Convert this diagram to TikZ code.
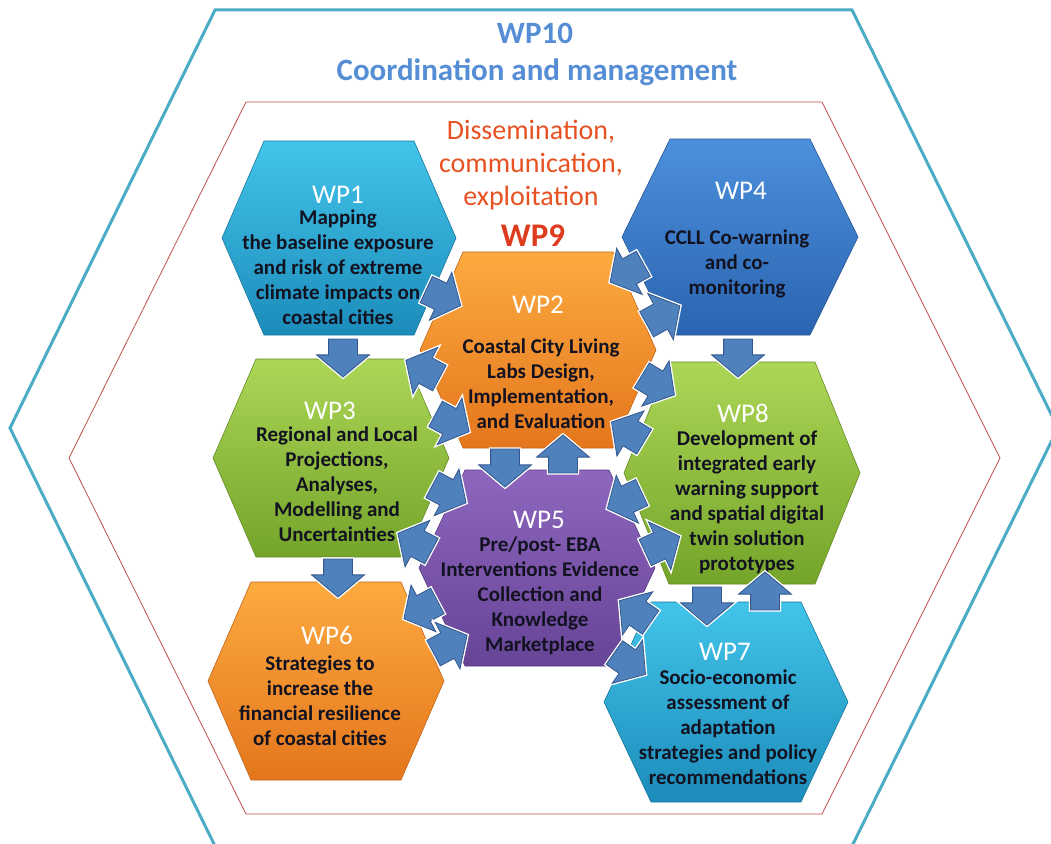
\documentclass[tikz,border=0pt]{standalone}
\usepackage{fontspec}
\setmainfont{Carlito}
\usetikzlibrary{shapes.arrows}
\definecolor{cyanT}{RGB}{66,196,234}
\definecolor{cyanB}{RGB}{28,140,186}
\definecolor{orT}{RGB}{252,170,64}
\definecolor{orB}{RGB}{228,118,28}
\definecolor{grT}{RGB}{172,214,86}
\definecolor{grB}{RGB}{116,164,42}
\definecolor{blT}{RGB}{76,144,220}
\definecolor{blB}{RGB}{42,100,176}
\definecolor{puT}{RGB}{142,102,190}
\definecolor{puB}{RGB}{102,68,150}
\definecolor{arrF}{RGB}{79,129,189}
\definecolor{arrD}{RGB}{52,88,142}
\definecolor{tealline}{RGB}{75,172,198}
\definecolor{redline}{RGB}{192,80,77}
\definecolor{wpblue}{RGB}{85,142,213}
\definecolor{dissem}{RGB}{232,82,34}
\definecolor{wpnine}{RGB}{222,60,30}
\definecolor{desctext}{RGB}{18,18,32}
\newcommand{\drawhex}[7]{%
  \path[draw=#7B!85!black, line width=0.6pt, top color=#7T, bottom color=#7B]
    (#2-#4,#3) -- (#2-#5,#3-#6) -- (#2+#5,#3-#6) -- (#2+#4,#3)
    -- (#2+#5,#3+#6) -- (#2-#5,#3+#6) -- cycle;
  \coordinate (#1) at (#2,#3);
}
\tikzset{
  blk/.style={shape=single arrow, draw=arrD, fill=arrF, line width=0.8pt,
    minimum height=38pt, inner xsep=0pt, inner ysep=14pt,
    single arrow head extend=12pt, single arrow tip angle=100,
    preaction={draw=white, line width=3.5pt}},
  wplab/.style={font=\fontsize{27}{30}\selectfont, text=white, inner sep=0pt},
  desc/.style={font=\fontsize{21}{25}\selectfont\bfseries, text=desctext, align=center, inner sep=0pt},
  frameout/.style={draw=tealline, line width=3pt, line join=miter},
  framein/.style={draw=redline, line width=0.8pt},
}
\begin{document}
\begin{tikzpicture}[x=1pt,y=-1pt]
\useasboundingbox (0,0) rectangle (1051,843);
\fill[white] (0,0) rectangle (1051,843);
% frames
\draw[frameout] (215,10) -- (852,10) -- (1058,428) -- (852,846) -- (215,846) -- (10,428) -- cycle;
\draw[framein] (246,102) -- (822,102) -- (1000,458) -- (822,814) -- (246,814) -- (69,458) -- cycle;
% titles
\node[font=\fontsize{31}{34}\selectfont\bfseries, text=wpblue, inner sep=0pt] (wp10) at (535,33) {WP10};
\node[font=\fontsize{31}{34}\selectfont\bfseries, text=wpblue, inner sep=0pt] (wp10t) at (537,72) {Coordination and management};
\node[font=\fontsize{28}{33}\selectfont, text=dissem, align=center, inner sep=0pt] (wp9t) at (531,165) {Dissemination,\\communication,\\exploitation};
\node[font=\fontsize{33}{36}\selectfont\bfseries, text=wpnine, inner sep=0pt] (wp9) at (533,236) {WP9};
% hexagons
\drawhex{wp1}{339}{238}{117}{75}{97}{cyan}
\drawhex{wp4}{740}{237}{118}{70}{98}{bl}
\drawhex{wp2}{538}{350}{118}{75}{98}{or}
\drawhex{wp3}{331}{458}{118}{75}{99}{gr}
\drawhex{wp8}{742}{473}{118}{73}{111}{gr}
\drawhex{wp5}{537}{568}{118}{72}{98}{pu}
\drawhex{wp6}{326}{681}{118}{75}{99}{or}
\drawhex{wp7}{726}{702}{122}{75}{100}{cyan}
% labels
\node[wplab] (wp1l) at (338,195) {WP1};
\node[desc] (wp1d) at (338,267) {Mapping\\the baseline exposure\\and risk of extreme\\climate impacts on\\coastal cities};
\node[wplab] (wp2l) at (538,305) {WP2};
\node[desc] (wp2d) at (541,384) {Coastal City Living\\Labs Design,\\Implementation,\\and Evaluation};
\node[wplab] (wp3l) at (330,411) {WP3};
\node[desc] (wp3d) at (337,484) {Regional and Local\\Projections,\\Analyses,\\Modelling and\\Uncertainties};
\node[wplab] (wp4l) at (741,191) {WP4};
\node[desc] (wp4d) at (737,264) {CCLL Co-warning\\and co-\\monitoring};
\node[wplab] (wp5l) at (539,520) {WP5};
\node[desc] (wp5d) at (540,596) {Pre/post- EBA\\Interventions Evidence\\Collection and\\Knowledge\\Marketplace};
\node[wplab] (wp6l) at (327,635) {WP6};
\node[desc] (wp6d) at (320,701) {Strategies to\\increase the\\financial resilience\\of coastal cities};
\node[wplab] (wp7l) at (725,652) {WP7};
\node[desc] (wp7d) at (728,727) {Socio-economic\\assessment of\\adaptation\\strategies and policy\\recommendations};
\node[wplab] (wp8l) at (743,413) {WP8};
\node[desc] (wp8d) at (747,502) {Development of\\integrated early\\warning support\\and spatial digital\\twin solution\\prototypes};
% block arrows
\node[blk, rotate=-90] (a13) at (343,352) {};
\node[blk, rotate=-90] (a48) at (738,352) {};
\node[blk, rotate=-90] (a36) at (338,572) {};
\node[blk, rotate=-25] (a12) at (438,295) {};
\node[blk, rotate=209] (a42) at (632,270) {};
\node[blk, rotate=29] (a24) at (658,318) {};
\node[blk, rotate=152] (a23) at (428,372) {};
\node[blk, rotate=-28] (a32) at (447,420) {};
\node[blk, rotate=-31] (a28) at (653,382) {};
\node[blk, rotate=149] (a82) at (633,435) {};
\node[blk, rotate=-90] (a25) at (505,462) {};
\node[blk, rotate=90] (a52) at (563,460) {};
\node[blk, rotate=-28] (a35) at (444,491) {};
\node[blk, rotate=152] (a53) at (420,545) {};
\node[blk, rotate=205] (a85) at (630,498) {};
\node[blk, rotate=25] (a58) at (657,547) {};
\node[blk, rotate=208] (a56) at (426,607) {};
\node[blk, rotate=28] (a65) at (445,647) {};
\node[blk, rotate=-90] (a87) at (707,600) {};
\node[blk, rotate=90] (a78) at (765,597) {};
\node[blk, rotate=145] (a75) at (640,615) {};
\node[blk, rotate=-35] (a57) at (625,660) {};
\end{tikzpicture}
\end{document}
